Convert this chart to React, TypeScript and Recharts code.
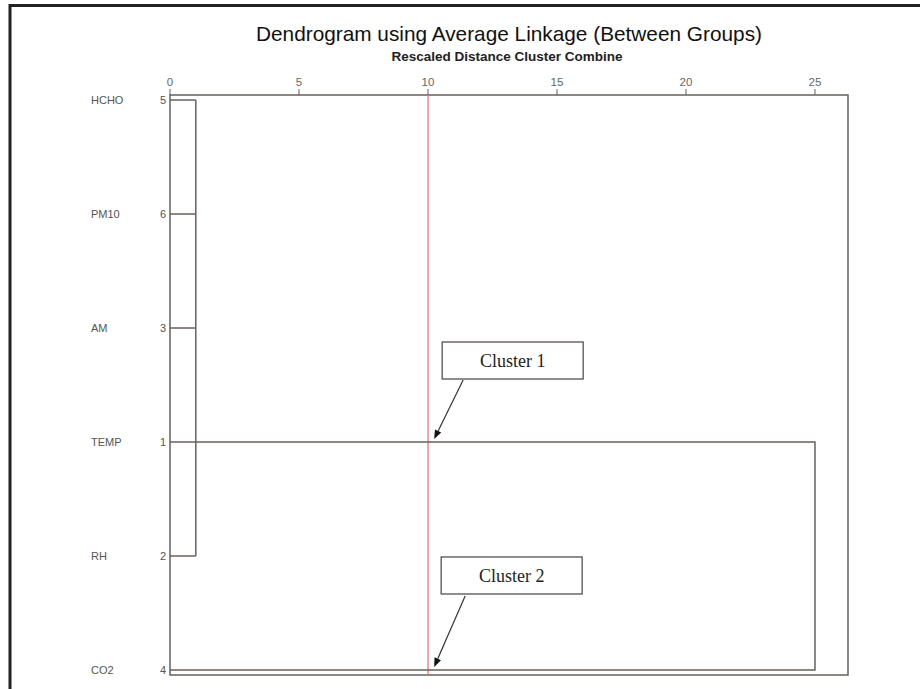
import React from 'react';
import {
  ComposedChart,
  Scatter,
  XAxis,
  YAxis,
  ReferenceLine,
  ReferenceArea,
  ReferenceDot,
} from 'recharts';

// leaves in dendrogram order (top to bottom)
const leafNames = ['HCHO', 'PM10', 'AM', 'TEMP', 'RH', 'CO2'];
const caseNumbers = [5, 6, 3, 1, 2, 4];

// first merge: rows 0..4 joined at rescaled distance 1
const firstClusterRows = [0, 1, 2, 3, 4];
const firstMergeDistance = 1;
// second merge: the big cluster (drawn from TEMP row) joins CO2 at 25
const secondMergeFromRow = 3;
const secondMergeToRow = 5;
const secondMergeDistance = 25;

const distanceTicks = [0, 5, 10, 15, 20, 25];
const cutDistance = 10;

const X_MAX = 26.28;
const Y_MIN = -0.044;
const Y_MAX = 5.044;

const LINE = '#6a5e5e';
const CUT = '#ee6a6a';

type Pt = { x: number; y: number };

// build link polylines from the merges
const linkPaths: Pt[][] = [
  ...firstClusterRows.map((r) => [
    { x: 0, y: r },
    { x: firstMergeDistance, y: r },
  ]),
  [
    { x: firstMergeDistance, y: firstClusterRows[0] },
    { x: firstMergeDistance, y: firstClusterRows[firstClusterRows.length - 1] },
  ],
  [
    { x: firstMergeDistance, y: secondMergeFromRow },
    { x: secondMergeDistance, y: secondMergeFromRow },
    { x: secondMergeDistance, y: secondMergeToRow },
    { x: 0, y: secondMergeToRow },
  ],
];

const NoDot = () => <g />;

const LeafTick = (props: any) => {
  const { x, y, payload } = props;
  const i = payload.value as number;
  return (
    <g>
      <text x={x - 75} y={y} dy="0.35em" textAnchor="start" fontSize={11} fill="#555">
        {leafNames[i]}
      </text>
      <text x={x} y={y} dy="0.35em" textAnchor="end" fontSize={11} fill="#555">
        {caseNumbers[i]}
      </text>
    </g>
  );
};

// labelled box with an arrow pointing at (cx, cy)
const Callout = (props: any) => {
  const { cx, cy, label, boxDx, boxDy, tailDx, tailDy } = props;
  const bw = 141;
  const bh = 37;
  const sx = cx + tailDx;
  const sy = cy + tailDy;
  const ex = cx + 1;
  const ey = cy - 3;
  const len = Math.hypot(ex - sx, ey - sy);
  const ux = (ex - sx) / len;
  const uy = (ey - sy) / len;
  const bx = ex - ux * 9;
  const by = ey - uy * 9;
  const head = `${ex},${ey} ${bx - uy * 3.5},${by + ux * 3.5} ${bx + uy * 3.5},${by - ux * 3.5}`;
  return (
    <g>
      <rect x={cx + boxDx} y={cy + boxDy} width={bw} height={bh} fill="#fff" stroke="#4a4242" strokeWidth={1.2} />
      <text
        x={cx + boxDx + bw / 2}
        y={cy + boxDy + bh / 2}
        dy="0.35em"
        textAnchor="middle"
        fontFamily="'Liberation Serif', 'Times New Roman', serif"
        fontSize={18}
        fill="#222"
      >
        {label}
      </text>
      <line x1={sx} y1={sy} x2={bx} y2={by} stroke="#333" strokeWidth={1.2} />
      <polygon points={head} fill="#111" />
    </g>
  );
};

const App = () => {
  return (
    <div style={{ position: 'absolute', left: 0, top: 0, width: 920, height: 689, overflow: 'hidden', background: '#fff' }}>
      <svg width={920} height={689} style={{ position: 'absolute', left: 0, top: 0 }}>
        <line x1={10} y1={5.5} x2={920} y2={5.5} stroke="#222" strokeWidth={3} />
        <line x1={10} y1={4} x2={10} y2={689} stroke="#222" strokeWidth={3} />
        <text
          x={509}
          y={41}
          textAnchor="middle"
          fontFamily="'Liberation Sans', Arial, sans-serif"
          fontSize={20.8}
          fill="#111"
        >
          Dendrogram using Average Linkage (Between Groups)
        </text>
        <text
          x={507}
          y={61}
          textAnchor="middle"
          fontFamily="'Liberation Sans', Arial, sans-serif"
          fontSize={13.5}
          fontWeight="bold"
          fill="#222"
        >
          Rescaled Distance Cluster Combine
        </text>
      </svg>
      <div style={{ position: 'absolute', left: 0, top: 0 }}>
        <ComposedChart
          width={920}
          height={689}
          margin={{ top: 65, right: 72, bottom: 14, left: 90 }}
          style={{ fontFamily: "'Liberation Sans', Arial, sans-serif" }}
        >
          <XAxis
            xAxisId={0}
            type="number"
            dataKey="x"
            orientation="top"
            height={30}
            domain={[0, X_MAX]}
            ticks={distanceTicks}
            allowDataOverflow
            axisLine={false}
            tickSize={6}
            tickMargin={3}
            tickLine={{ stroke: LINE }}
            tick={{ fontSize: 11.5, fill: '#666' }}
          />
          <YAxis
            yAxisId={0}
            type="number"
            dataKey="y"
            reversed
            width={80}
            domain={[Y_MIN, Y_MAX]}
            ticks={[0, 1, 2, 3, 4, 5]}
            allowDataOverflow
            axisLine={false}
            tickLine={false}
            tickSize={0}
            tickMargin={4}
            tick={<LeafTick />}
          />
          <ReferenceArea
            x1={0}
            x2={X_MAX}
            y1={Y_MIN}
            y2={Y_MAX}
            fill="none"
            fillOpacity={0}
            stroke={LINE}
            strokeWidth={1.5}
            ifOverflow="visible"
          />
          <ReferenceLine x={cutDistance} stroke={CUT} strokeWidth={1.2} />
          {linkPaths.map((pts, i) => (
            <Scatter
              key={`link-${i}`}
              data={pts}
              line={{ stroke: LINE, strokeWidth: 1.5 }}
              lineJointType="linear"
              shape={NoDot}
              isAnimationActive={false}
              legendType="none"
            />
          ))}
          <ReferenceDot
            x={10.2}
            y={secondMergeFromRow}
            r={0}
            ifOverflow="visible"
            shape={(p: any) => (
              <Callout {...p} label="Cluster 1" boxDx={9} boxDy={-100} tailDx={30} tailDy={-62} />
            )}
          />
          <ReferenceDot
            x={10.2}
            y={secondMergeToRow}
            r={0}
            ifOverflow="visible"
            shape={(p: any) => (
              <Callout {...p} label="Cluster 2" boxDx={8} boxDy={-113} tailDx={32} tailDy={-74} />
            )}
          />
        </ComposedChart>
      </div>
    </div>
  );
};

export default App;
